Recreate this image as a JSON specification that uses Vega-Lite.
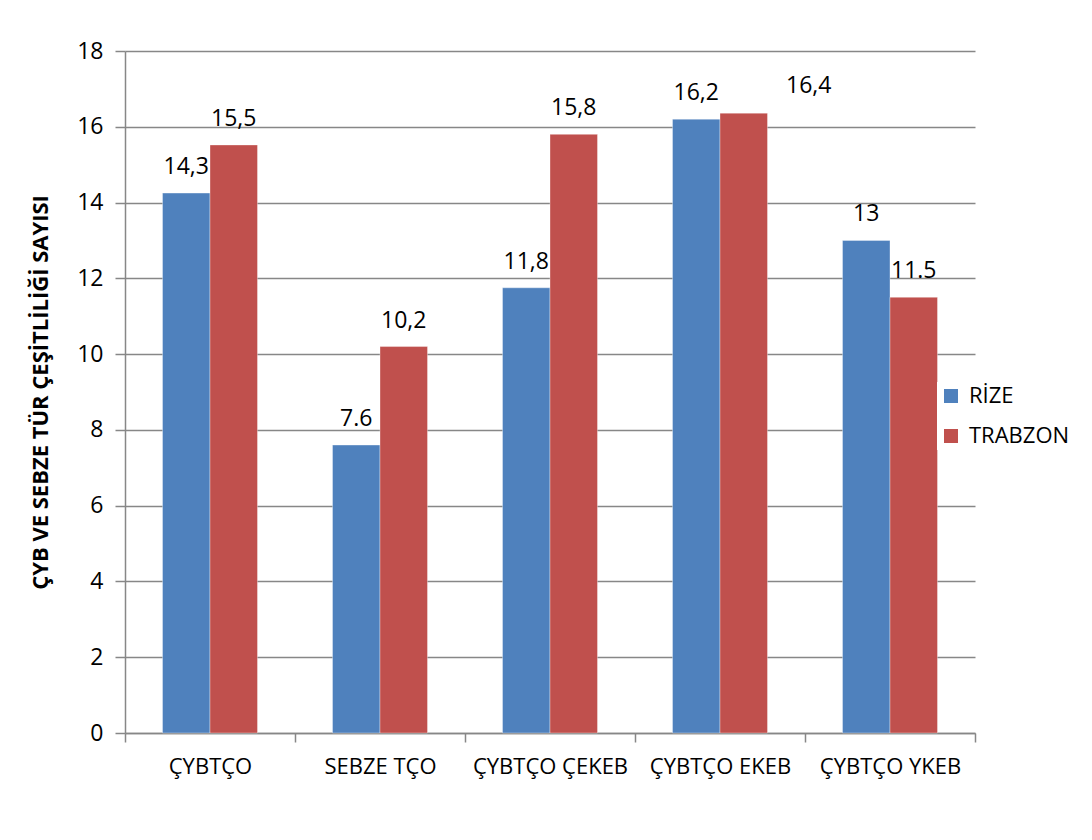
{
  "$schema": "https://vega.github.io/schema/vega-lite/v6.json",
  "width": 850,
  "height": 682,
  "autosize": "none",
  "padding": {"left": 125, "top": 51, "right": 117, "bottom": 107},
  "background": "white",
  "data": {
    "values": [
      {"category": "ÇYBTÇO", "city": "RİZE", "value": 14.25, "label": "14,3"},
      {"category": "ÇYBTÇO", "city": "TRABZON", "value": 15.52, "label": "15,5"},
      {"category": "SEBZE TÇO", "city": "RİZE", "value": 7.6, "label": "7.6"},
      {"category": "SEBZE TÇO", "city": "TRABZON", "value": 10.2, "label": "10,2"},
      {"category": "ÇYBTÇO ÇEKEB", "city": "RİZE", "value": 11.75, "label": "11,8"},
      {"category": "ÇYBTÇO ÇEKEB", "city": "TRABZON", "value": 15.8, "label": "15,8"},
      {"category": "ÇYBTÇO EKEB", "city": "RİZE", "value": 16.2, "label": "16,2"},
      {"category": "ÇYBTÇO EKEB", "city": "TRABZON", "value": 16.36, "label": "16,4"},
      {"category": "ÇYBTÇO YKEB", "city": "RİZE", "value": 13, "label": "13"},
      {"category": "ÇYBTÇO YKEB", "city": "TRABZON", "value": 11.5, "label": "11.5"}
    ]
  },
  "encoding": {
    "x": {
      "field": "category",
      "type": "nominal",
      "sort": ["ÇYBTÇO", "SEBZE TÇO", "ÇYBTÇO ÇEKEB", "ÇYBTÇO EKEB", "ÇYBTÇO YKEB"],
      "scale": {"paddingInner": 0, "paddingOuter": 0},
      "axis": {
        "title": null,
        "labelAngle": 0,
        "tickBand": "extent",
        "tickSize": 9,
        "labelPadding": 14,
        "labelFontSize": 22,
        "labelFont": "Open Sans",
        "labelColor": "#000000",
        "domainColor": "#878787",
        "tickColor": "#878787",
        "domainWidth": 1.5,
        "tickWidth": 1.5
      }
    },
    "xOffset": {
      "field": "city",
      "type": "nominal",
      "sort": ["RİZE", "TRABZON"],
      "scale": {"paddingInner": 0, "paddingOuter": 0.79}
    },
    "y": {
      "field": "value",
      "type": "quantitative",
      "scale": {"domain": [0, 18], "nice": false},
      "axis": {
        "title": "ÇYB VE SEBZE TÜR ÇEŞİTLİLİĞİ SAYISI",
        "titleFont": "Open Sans",
        "titleFontSize": 22,
        "titleFontWeight": "bold",
        "titleColor": "#000000",
        "titlePadding": 24,
        "values": [0, 2, 4, 6, 8, 10, 12, 14, 16, 18],
        "labelFont": "Open Sans",
        "labelFontSize": 23,
        "labelColor": "#000000",
        "labelPadding": 12,
        "tickSize": 10,
        "tickColor": "#878787",
        "tickWidth": 1.5,
        "domainColor": "#878787",
        "domainWidth": 1.5,
        "gridColor": "#878787",
        "gridWidth": 1.5
      }
    }
  },
  "layer": [
    {
      "mark": {"type": "bar", "stroke": "#ffffff", "strokeOpacity": 0.35, "strokeWidth": 1},
      "encoding": {
        "color": {
          "field": "city",
          "type": "nominal",
          "sort": ["RİZE", "TRABZON"],
          "scale": {"domain": ["RİZE", "TRABZON"], "range": ["#4F81BD", "#C0504D"]},
          "legend": {
            "title": null,
            "orient": "none",
            "legendX": 812,
            "legendY": 331,
            "fillColor": "white",
            "padding": 3,
            "symbolType": "square",
            "symbolSize": 196,
            "symbolStrokeWidth": 0,
            "labelFont": "Open Sans",
            "labelFontSize": 22,
            "labelColor": "#000000",
            "labelOffset": 7,
            "rowPadding": 18
          }
        }
      }
    },
    {
      "transform": [{"filter": "datum.label != '16,4'"}],
      "mark": {"type": "text", "baseline": "alphabetic", "dy": -19, "font": "Open Sans", "fontSize": 23, "color": "#000000"},
      "encoding": {"text": {"field": "label"}}
    },
    {
      "transform": [{"filter": "datum.label == '16,4'"}],
      "mark": {"type": "text", "baseline": "alphabetic", "dy": -20, "dx": 65, "font": "Open Sans", "fontSize": 23, "color": "#000000"},
      "encoding": {"text": {"field": "label"}}
    }
  ],
  "config": {"view": {"stroke": null}}
}
